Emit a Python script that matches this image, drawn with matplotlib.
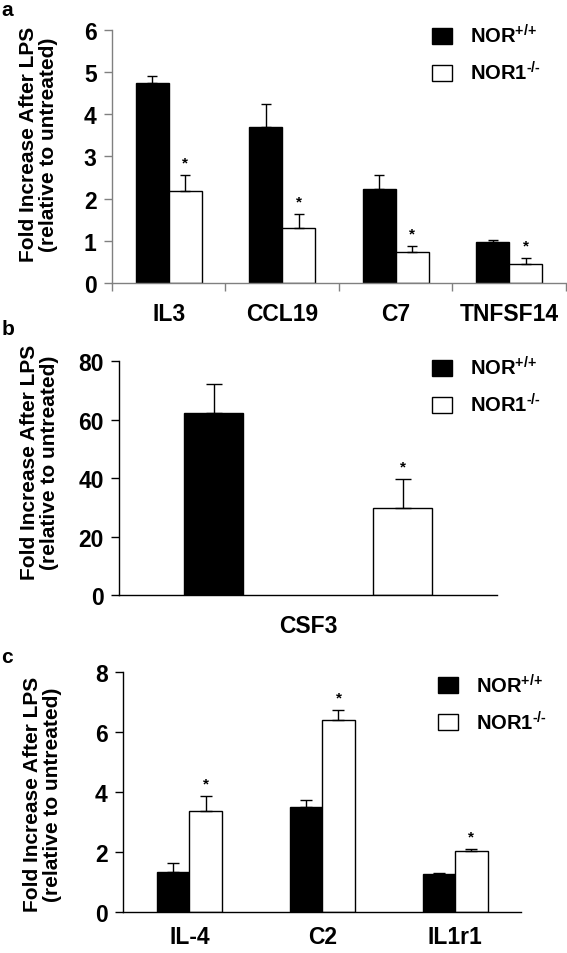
import matplotlib
matplotlib.use("Agg")
import matplotlib.pyplot as plt
import numpy as np

plt.rcParams['font.family'] = ['Liberation Sans', 'DejaVu Sans']
plt.rcParams['font.weight'] = 'bold'
plt.rcParams['axes.labelweight'] = 'bold'
plt.rcParams['mathtext.fontset'] = 'custom'
plt.rcParams['mathtext.default'] = 'bf'
plt.rcParams['mathtext.bf'] = 'Liberation Sans:bold'
plt.rcParams['mathtext.rm'] = 'Liberation Sans:bold'

# Panel a
genes_a = ["IL3", "CCL19", "C7", "TNFSF14"]
wt_a = [4.74, 3.69, 2.23, 0.97]
wt_a_err = [0.16, 0.56, 0.32, 0.05]
ko_a = [2.17, 1.31, 0.73, 0.45]
ko_a_err = [0.39, 0.33, 0.14, 0.14]
sig_a = [True, True, True, True]

# Panel b
genes_b = ["CSF3"]
wt_b = [62.2]
wt_b_err = [10.0]
ko_b = [29.7]
ko_b_err = [10.0]
sig_b = [True]

# Panel c
genes_c = ["IL-4", "C2", "IL1r1"]
wt_c = [1.35, 3.51, 1.28]
wt_c_err = [0.30, 0.23, 0.04]
ko_c = [3.37, 6.40, 2.03]
ko_c_err = [0.50, 0.33, 0.08]
sig_c = [True, True, True]

labels = [r'NOR$^{\text{+/+}}$', r'NOR1$^{\text{-/-}}$']
ylabel = 'Fold Increase After LPS\n(relative to untreated)'

fig = plt.figure(figsize=(5.67, 9.54), dpi=100)


def panel(rect, genes, wt, wt_err, ko, ko_err, sig, ymax, ystep, width, gap,
          capsize, spine_color, boundary_ticks, label_xy, legend_xy, xpad):
    ax = fig.add_axes(rect)
    x = np.arange(len(genes))
    ax.bar(x - gap - width, wt, width, align='edge', color='black',
           edgecolor='black', linewidth=1, label=labels[0])
    ax.bar(x + gap, ko, width, align='edge', color='white',
           edgecolor='black', linewidth=1, label=labels[1])
    ax.errorbar(x - gap - width / 2, wt, yerr=[np.zeros(len(wt)), wt_err],
                fmt='none', ecolor='black', elinewidth=1, capsize=capsize,
                capthick=1)
    ax.errorbar(x + gap + width / 2, ko, yerr=[np.zeros(len(ko)), ko_err],
                fmt='none', ecolor='black', elinewidth=1, capsize=capsize,
                capthick=1)
    for xi, v, e, s in zip(x, ko, ko_err, sig):
        if s:
            ax.annotate('*', (xi + gap + width / 2, v + e), xytext=(0, 6),
                        textcoords='offset points', ha='center',
                        va='baseline', fontsize=11)
    ax.set_xlim(-0.5, len(genes) - 0.5)
    ax.set_ylim(0, ymax)
    ax.set_yticks(np.arange(0, ymax + ystep / 2, ystep))
    ax.set_xticks(x)
    ax.set_xticklabels(genes)
    ax.tick_params(axis='x', length=0, pad=xpad, labelsize=16.5)
    ax.tick_params(axis='y', length=5.5, width=1, pad=5.5, labelsize=16.5,
                   color=spine_color)
    if boundary_ticks:
        ax.set_xticks(np.arange(-0.5, len(genes)), minor=True)
        ax.tick_params(axis='x', which='minor', length=6, width=1,
                       color=spine_color)
    for s in ['top', 'right']:
        ax.spines[s].set_visible(False)
    for s in ['left', 'bottom']:
        ax.spines[s].set_color(spine_color)
        ax.spines[s].set_linewidth(1)
    ax.set_ylabel(ylabel, fontsize=15, linespacing=1.05)
    ax.yaxis.set_label_coords(*label_xy)
    ax.legend(loc='upper left', bbox_to_anchor=legend_xy, frameon=False,
              fontsize=14.5, handlelength=1.0, handleheight=0.85,
              handletextpad=0.9, labelspacing=0.7, borderpad=0,
              borderaxespad=0)
    return ax


ax_a = panel([0.1975, 0.7023, 0.8005, 0.2655], genes_a, wt_a, wt_a_err,
             ko_a, ko_a_err, sig_a, 6, 1, 0.29, 0.0, 3.3, '#808080', True,
             (-0.12, 0.55), (0.705, 1.025), 13.5)
ax_b = panel([0.2104, 0.3753, 0.6667, 0.245], genes_b, wt_b, wt_b_err,
             ko_b, ko_b_err, sig_b, 80, 20, 0.156, 0.172, 5.8, 'black', False,
             (-0.16, 0.57), (0.827, 1.025), 13.5)
ax_c = panel([0.2169, 0.0427, 0.7028, 0.2522], genes_c, wt_c, wt_c_err,
             ko_c, ko_c_err, sig_c, 8, 2, 0.245, 0.0, 4.2, 'black', False,
             (-0.154, 0.494), (0.79, 0.995), 9.5)

fig.text(0.002, 0.999, 'a', fontsize=15, va='top', ha='left')
fig.text(0.002, 1 - 320 / 954, 'b', fontsize=15, va='top', ha='left')
fig.text(0.002, 1 - 648 / 954, 'c', fontsize=15, va='top', ha='left')

fig.savefig('out.png', dpi=100)
